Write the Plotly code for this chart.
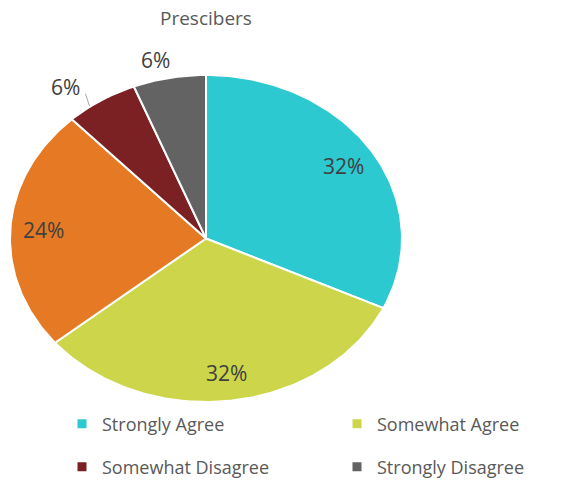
import numpy as np
import plotly.graph_objects as go

# ---- data ----
title = "Prescibers"
categories = ["Strongly Agree", "Somewhat Agree", "Neutral", "Somewhat Disagree", "Strongly Disagree"]
values = [32, 32, 24, 6, 6]
labels = ["32%", "32%", "24%", "6%", "6%"]
legend_names = ["Strongly Agree", "Somewhat Agree", None, "Somewhat Disagree", "Strongly Disagree"]

# ---- style ----
colors = ["#2CC9D0", "#CDD64A", "#E57924", "#7B2124", "#636363"]
label_inside = [True, True, True, False, False]
label_nudge = [(0, 0), (0, 0), (0, 0), (-0.115, -0.02), (-0.05, -0.01)]  # data units
FONT = "Open Sans"

fig = go.Figure()

total = sum(values)
cum = 0.0
for i, v in enumerate(values):
    a0 = cum / total * 2 * np.pi
    a1 = (cum + v) / total * 2 * np.pi
    t = np.linspace(a0, a1, max(int(v * 4), 8))
    xs = np.concatenate([[0], np.sin(t), [0]])
    ys = np.concatenate([[0], np.cos(t), [0]])
    fig.add_trace(go.Scatter(
        x=xs, y=ys, mode="lines", fill="toself", fillcolor=colors[i],
        line=dict(color="white", width=2), hoverinfo="skip", showlegend=False))
    mid = (a0 + a1) / 2
    if label_inside[i]:
        r = 0.83
        lx, ly = r * np.sin(mid), r * np.cos(mid)
    else:
        r = 1.12
        lx = r * np.sin(mid) + label_nudge[i][0]
        ly = r * np.cos(mid) + label_nudge[i][1]
        if i == 3:
            # leader line from slice edge to label
            ex, ey = 0.96 * np.sin(mid) - 0.08, 0.96 * np.cos(mid)
            fig.add_trace(go.Scatter(
                x=[ex, lx + 0.1], y=[ey, ly - 0.04], mode="lines",
                line=dict(color="#A6A6A6", width=1), hoverinfo="skip", showlegend=False))
    fig.add_annotation(x=lx, y=ly, xref="x", yref="y", text=labels[i], showarrow=False,
                       xanchor="center", yanchor="middle",
                       font=dict(family=FONT, size=21, color="#404040"))
    cum += v

# legend entries: one legend box per entry (2 x 2 grid)
legend_slots = {0: ("legend", 62, 424), 1: ("legend2", 337, 424),
                3: ("legend3", 62, 467), 4: ("legend4", 337, 467)}
legend_layouts = {}
for i, (lg, px, py) in legend_slots.items():
    fig.add_trace(go.Scatter(
        x=[None], y=[None], mode="markers", name=legend_names[i],
        marker=dict(symbol="square", size=9, color=colors[i]), legend=lg))
    legend_layouts[lg] = dict(x=px / 586, y=1 - py / 483, xanchor="left", yanchor="middle",
                              orientation="h",
                              font=dict(family=FONT, size=18, color="#595959"),
                              bgcolor="rgba(0,0,0,0)")

# pie centre at (206, 238.5) px, radii 196 (x) / 163.5 (y)
xr = [-1.05, 1.1]
yr = [-1.05, 1.2]
fig.update_layout(
    width=586, height=483,
    margin=dict(l=0, r=0, t=0, b=0, autoexpand=False),
    paper_bgcolor="white", plot_bgcolor="white",
    showlegend=True,
    xaxis=dict(domain=[(206 + xr[0] * 196) / 586, (206 + xr[1] * 196) / 586],
               range=xr, visible=False, fixedrange=True),
    yaxis=dict(domain=[(483 - 238.5 + yr[0] * 163.5) / 483, (483 - 238.5 + yr[1] * 163.5) / 483],
               range=yr, visible=False, fixedrange=True),
    annotations=list(fig.layout.annotations) + [
        dict(text=title, x=206 / 586, y=1 - 18 / 483, xref="paper", yref="paper",
             xanchor="center", yanchor="middle",
             showarrow=False, font=dict(family=FONT, size=19, color="#595959"))
    ],
    **legend_layouts,
)

fig.write_html("out.html")
